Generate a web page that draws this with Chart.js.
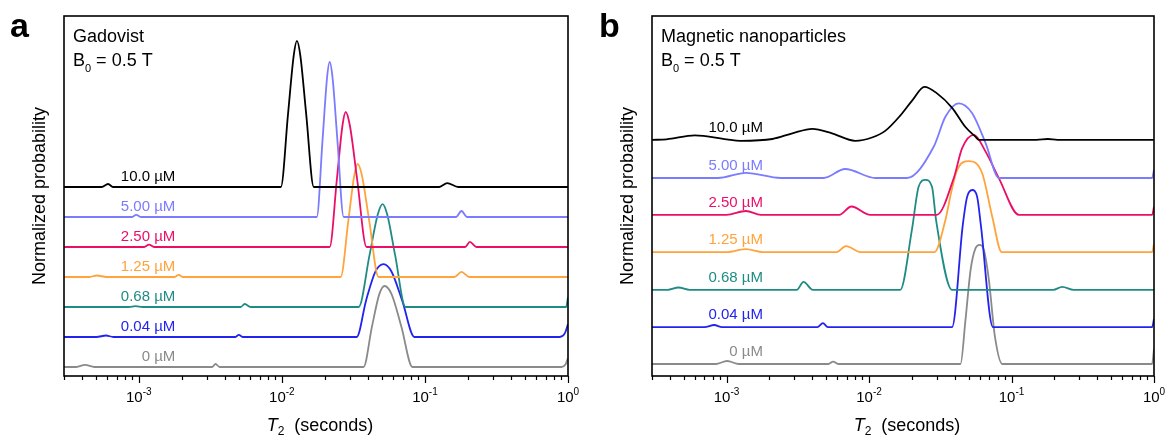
<!DOCTYPE html>
<html>
<head>
<meta charset="utf-8">
<script src="https://cdn.jsdelivr.net/npm/chart.js@4.4.0/dist/chart.umd.min.js"></script>
<style>
  body { margin: 0; background: #fff; }
  #wrap { position: relative; width: 1166px; height: 435px; }
  canvas { position: absolute; top: 0; }
</style>
</head>
<body>
<div id="wrap">
  <canvas id="chartA" width="583" height="435" style="left:0"></canvas>
  <canvas id="chartB" width="583" height="435" style="left:583px"></canvas>
</div>
<script>
const concLabels = ['10.0 µM', '5.00 µM', '2.50 µM', '1.25 µM', '0.68 µM', '0.04 µM', '0 µM'];
const lineColors = ['#000000', '#7b7bff', '#eb0e69', '#ffa33a', '#1e8c84', '#2323f0', '#8a8a8a'];

const majorTicks = [1e-3, 1e-2, 1e-1, 1];
const majorExps = ['-3', '-2', '-1', '0'];

// Gadovist: vertical offset of each trace, then T2 (s) and probability per trace
const gadOffsets = [6.3, 5.3, 4.3, 3.3, 2.3, 1.3, 0.3];
const gadT2 = [
  [3e-4, 5.5e-4, 6.1e-4, 6.6e-4, 0.00984, 0.01104, 0.0121, 0.01274, 0.01346, 0.01479, 0.01671, 0.126, 0.143, 0.171, 1],
  [3e-4, 8.9e-4, 9.6e-4, 1.04e-3, 0.01754, 0.01925, 0.0207, 0.02158, 0.0226, 0.02443, 0.02704, 0.165, 0.18, 0.197, 1],
  [3e-4, 1.09e-3, 1.18e-3, 1.28e-3, 0.02158, 0.02423, 0.02652, 0.02793, 0.02987, 0.0336, 0.03908, 0.191, 0.206, 0.229, 1],
  [3e-4, 4.52e-4, 5.1e-4, 5.94e-4, 1.77e-3, 1.9e-3, 2.04e-3, 0.02576, 0.02915, 0.03208, 0.03388, 0.03624, 0.04078, 0.04742, 0.161, 0.18, 0.204, 1],
  [3e-4, 8.5e-4, 9.5e-4, 1.06e-3, 5.15e-3, 5.5e-3, 6.04e-3, 0.03443, 0.04096, 0.04683, 0.05058, 0.05445, 0.06194, 0.07311, 0.97, 1],
  [3e-4, 5.06e-4, 5.9e-4, 6.64e-4, 4.71e-3, 5.0e-3, 5.35e-3, 0.03334, 0.03879, 0.04513, 0.0514, 0.05821, 0.06928, 0.08453, 0.875, 0.95, 1],
  [3e-4, 3.66e-4, 4.2e-4, 4.9e-4, 3.25e-3, 3.44e-3, 3.67e-3, 0.03724, 0.04264, 0.04799, 0.05224, 0.05843, 0.06839, 0.08185, 0.9, 0.96, 1]
];
const gadProb = [
  [0, 0, 0.1, 0, 0, 2.43, 4.38, 4.87, 4.38, 2.43, 0, 0, 0.13, 0, 0],
  [0, 0, 0.07, 0, 0, 2.58, 4.65, 5.17, 4.65, 2.58, 0, 0, 0.2, 0, 0],
  [0, 0, 0.08, 0, 0, 2.25, 4.05, 4.5, 4.05, 2.25, 0, 0, 0.17, 0, 0],
  [0, 0, 0.05, 0, 0, 0.07, 0, 0, 1.88, 3.39, 3.77, 3.39, 1.88, 0, 0, 0.17, 0, 0],
  [0, 0, 0.03, 0, 0, 0.1, 0, 0, 1.72, 3.09, 3.43, 3.09, 1.72, 0, 0, 0.33],
  [0, 0, 0.05, 0, 0, 0.07, 0, 0, 1.22, 2.19, 2.43, 2.19, 1.22, 0, 0, 0.12, 0.43],
  [0, 0, 0.07, 0, 0, 0.1, 0, 0, 1.35, 2.43, 2.7, 2.43, 1.35, 0, 0, 0.08, 0.3]
];

// Magnetic nanoparticles
const mnpOffsets = [7.87, 6.6, 5.37, 4.13, 2.87, 1.63, 0.4];
const mnpT2 = [
  [3e-4, 3.8e-4, 6.0e-4, 1.0e-3, 1.25e-3, 2.1e-3, 2.9e-3, 4.0e-3, 5.5e-3, 8.0e-3, 0.0105, 0.013, 0.0165, 0.02, 0.0245, 0.03, 0.0383, 0.0475, 0.056, 0.059, 0.15, 0.18, 0.21, 1],
  [3e-4, 8.7e-4, 1.37e-3, 2.4e-3, 4.8e-3, 6.8e-3, 0.0111, 0.01844, 0.02844, 0.03436, 0.04266, 0.05297, 0.06579, 0.08166, 0.97, 1],
  [3e-4, 1.0e-3, 1.37e-3, 1.74e-3, 6.18e-3, 7.52e-3, 0.01023, 0.02985, 0.03936, 0.04498, 0.05445, 0.06579, 0.08166, 0.113, 0.97, 1],
  [3e-4, 1.0e-3, 1.37e-3, 1.8e-3, 5.9e-3, 6.9e-3, 8.7e-3, 0.02877, 0.03436, 0.03777, 0.0415, 0.05012, 0.06223, 0.07328, 0.08531, 0.97, 1],
  [3e-4, 3.86e-4, 4.6e-4, 5.52e-4, 3.11e-3, 3.47e-3, 4.04e-3, 0.01656, 0.02, 0.02229, 0.02485, 0.02767, 0.02961, 0.03828, 0.196, 0.227, 0.273, 1],
  [3e-4, 7.0e-4, 8.2e-4, 9.3e-4, 4.34e-3, 4.75e-3, 5.14e-3, 0.03828, 0.0455, 0.04881, 0.05293, 0.05741, 0.06095, 0.07407, 0.97, 1],
  [3e-4, 8.4e-4, 1.01e-3, 1.22e-3, 5.19e-3, 5.6e-3, 6.08e-3, 0.04385, 0.04754, 0.0516, 0.05594, 0.0597, 0.064, 0.0694, 0.07651, 0.08614, 0.97, 1]
];
const mnpProb = [
  [0, 0.02, 0.15, 0.02, -0.03, 0.03, 0.22, 0.37, 0.22, -0.03, 0.08, 0.3, 0.8, 1.3, 1.77, 1.55, 1.07, 0.43, 0.1, 0, 0, 0.03, 0, 0],
  [0, 0, 0.17, 0, 0, 0.3, 0, 0, 1.04, 2.04, 2.49, 2.16, 1.16, 0, 0, 0.27],
  [0, 0, 0.13, 0, 0, 0.28, 0, 0, 1.23, 2.22, 2.67, 2.11, 1.22, 0, 0, 0.27],
  [0, 0, 0.1, 0, 0, 0.2, 0, 0, 1.07, 2.0, 2.73, 3.03, 2.63, 1.18, 0, 0, 0.27],
  [0, 0, 0.08, 0, 0, 0.27, 0, 0, 2.0, 3.44, 3.67, 3.44, 2.3, 0, 0, 0.1, 0, 0],
  [0, 0, 0.07, 0, 0, 0.13, 0, 0, 3.4, 4.34, 4.57, 4.34, 3.4, 0, 0, 0.27],
  [0, 0, 0.1, 0, 0, 0.08, 0, 0, 1.47, 3.13, 3.86, 3.97, 3.8, 2.8, 0.91, 0, 0, 0.5]
];

const FONT = "'Liberation Sans', Arial, sans-serif";

// all log ticks 1..9 x 10^n inside the axis range
const tickValues = [];
for (let e = -4; e <= 0; e++) {
  for (let m = 1; m <= 9; m++) {
    const v = +(m * Math.pow(10, e)).toPrecision(3);
    if (v >= 3e-4 && v <= 1) tickValues.push(v);
  }
}

function makeDatasets(t2s, probs, offsets) {
  return t2s.map((t2, i) => ({
    label: concLabels[i],
    data: t2.map((t, j) => ({ x: t, y: offsets[i] + probs[i][j] })),
    borderColor: lineColors[i],
    borderWidth: 1.8,
    pointRadius: 0,
    fill: false,
    cubicInterpolationMode: 'monotone'
  }));
}

function drawSubText(ctx, parts, x, y, align) {
  // parts: [text, font, dy]
  let total = 0;
  parts.forEach(p => { ctx.font = p[1]; total += ctx.measureText(p[0]).width; });
  let cx = align === 'center' ? x - total / 2 : x;
  ctx.textAlign = 'left';
  parts.forEach(p => {
    ctx.font = p[1];
    ctx.fillText(p[0], cx, y + p[2]);
    cx += ctx.measureText(p[0]).width;
  });
}

function decorPlugin(cfg) {
  return {
    id: 'decor',
    afterDraw(chart) {
      const { ctx, chartArea: a, scales: { x, y } } = chart;
      ctx.save();
      ctx.strokeStyle = '#000';
      ctx.fillStyle = '#000';

      // frame
      ctx.lineWidth = 1.6;
      ctx.strokeRect(a.left, a.top, a.right - a.left, a.bottom - a.top);

      // tick marks
      ctx.lineWidth = 1.2;
      x.ticks.forEach(t => {
        const px = Math.round(x.getPixelForValue(t.value)) + 0.5;
        const len = majorTicks.includes(t.value) ? 7 : 4;
        ctx.beginPath();
        ctx.moveTo(px, a.bottom);
        ctx.lineTo(px, a.bottom + len);
        ctx.stroke();
      });

      // tick labels 10^n
      ctx.textBaseline = 'alphabetic';
      majorTicks.forEach((v, i) => {
        const px = x.getPixelForValue(v);
        drawSubText(ctx, [['10', '15px ' + FONT, 0], [majorExps[i], '10px ' + FONT, -7]], px, 402, 'center');
      });

      // x title
      drawSubText(ctx, [
        ['T', 'italic 18px ' + FONT, 0],
        ['2', '12px ' + FONT, 4],
        ['  (seconds)', '18px ' + FONT, 0]
      ], (a.left + a.right) / 2 + 4, 431, 'center');

      // y title
      ctx.save();
      ctx.translate(cfg.yTitleX, (a.top + a.bottom) / 2);
      ctx.rotate(-Math.PI / 2);
      ctx.font = '18px ' + FONT;
      ctx.textAlign = 'center';
      ctx.textBaseline = 'middle';
      ctx.fillText('Normalized probability', 0, 0);
      ctx.restore();

      // panel letter
      ctx.font = 'bold 34px ' + FONT;
      ctx.textAlign = 'left';
      ctx.fillText(cfg.letter, cfg.letterX, 37);

      // title block
      ctx.font = '18px ' + FONT;
      ctx.fillText(cfg.title, a.left + 9, 42);
      drawSubText(ctx, [
        ['B', '18px ' + FONT, 0],
        ['0', '11px ' + FONT, 6],
        [' = 0.5 T', '18px ' + FONT, 0]
      ], a.left + 9, 66, 'left');

      // concentration labels
      ctx.font = '15px ' + FONT;
      ctx.textAlign = 'right';
      const lx = x.getPixelForValue(1.8e-3);
      cfg.offsets.forEach((off, i) => {
        ctx.fillStyle = lineColors[i];
        ctx.fillText(concLabels[i], lx, y.getPixelForValue(off) - cfg.labelGap);
      });
      ctx.restore();
    }
  };
}

function makeChart(id, t2s, probs, offsets, pad, cfg) {
  cfg.offsets = offsets;
  return new Chart(document.getElementById(id), {
    type: 'line',
    data: { datasets: makeDatasets(t2s, probs, offsets) },
    options: {
      responsive: false,
      animation: false,
      layout: { padding: pad },
      plugins: { legend: { display: false }, tooltip: { enabled: false } },
      scales: {
        x: {
          type: 'logarithmic',
          min: 3e-4,
          max: 1,
          grid: { display: false },
          border: { display: false },
          ticks: { display: false },
          afterBuildTicks: scale => {
            scale.ticks = tickValues.map(v => ({ value: v, major: majorTicks.includes(v) }));
          },
          afterFit: scale => { scale.height = 59; }
        },
        y: { display: false, min: 0, max: 12 }
      }
    },
    plugins: [decorPlugin(cfg)]
  });
}

makeChart('chartA', gadT2, gadProb, gadOffsets,
  { left: 64, right: 15, top: 16, bottom: 0 },
  { letter: 'a', letterX: 10, title: 'Gadovist', yTitleX: 40, labelGap: 6 });

makeChart('chartB', mnpT2, mnpProb, mnpOffsets,
  { left: 69, right: 12, top: 16, bottom: 0 },
  { letter: 'b', letterX: 16, title: 'Magnetic nanoparticles', yTitleX: 45, labelGap: 8 });
</script>
</body>
</html>
